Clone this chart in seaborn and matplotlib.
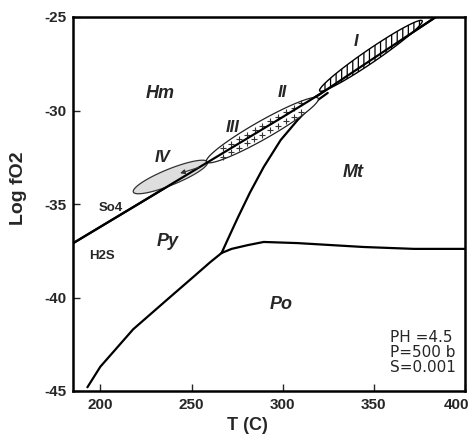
import numpy as np
import pandas as pd
import matplotlib
matplotlib.use("Agg")
import matplotlib.pyplot as plt
import matplotlib.transforms as mtransforms
import seaborn as sns
from matplotlib.patches import Polygon

# ---------------- data ----------------
hm_T = [185, 220, 260, 300, 320, 350, 384]
hm_y = [-37.1, -35.05, -32.7, -30.35, -29.15, -27.2, -25.0]

pymt_T = [266.5, 270, 275.3, 282, 289.6, 298.9, 308.2, 317, 324.7]
pymt_y = [-37.62, -36.87, -35.75, -34.4, -33.02, -31.58, -30.51, -29.6, -29.06]

popy_T = [192.9, 200, 218, 236.8, 251, 260.4, 266.5]
popy_y = [-44.8, -43.7, -41.7, -40.1, -38.9, -38.1, -37.62]

pomt_T = [266.5, 272, 280.8, 289.6, 308, 344.5, 372, 400]
pomt_y = [-37.62, -37.4, -37.2, -37.03, -37.09, -37.3, -37.4, -37.4]

# ellipses: end-points (T, logfO2) of the long axis
ell_I = [(320.3, -28.95), (376.5, -25.2)]
ell_III = [(258.2, -32.75), (319.5, -29.35)]
ell_IV = [(218.1, -34.36), (258.8, -32.75)]
arrow_IV = [(255.5, -33.0), (242.3, -33.4)]

region_labels = ["Hm", "Mt", "Py", "Po"]
region_pos = [(233, -29.1), (338.5, -33.3), (237, -37.0), (299, -40.4)]
roman_labels = ["I", "II", "III", "IV"]
roman_pos = [(340, -26.3), (300, -29.06), (272.5, -30.9), (234, -32.5)]
species_labels = ["So4", "H2S"]
species_pos = [(205.5, -35.2), (201, -37.8)]
cond_text = "PH =4.5\nP=500 b\nS=0.001"

xticks = [200, 250, 300, 350, 400]
yticks = [-45, -40, -35, -30, -25]

# ---------------- style ----------------
sns.set_style("ticks")
plt.rcParams["font.family"] = ["Liberation Sans", "DejaVu Sans"]
plt.rcParams["axes.unicode_minus"] = False
plt.rcParams["hatch.linewidth"] = 0.9

fig = plt.figure(figsize=(4.76, 4.37), dpi=100)
ax = fig.add_axes([73 / 476, 1 - 391 / 437, (465 - 73) / 476, (391 - 17) / 437])
ax.set_xlim(185, 400)
ax.set_ylim(-45, -25)

lw = 1.6
for T, y in [(hm_T, hm_y), (pymt_T, pymt_y), (popy_T, popy_y), (pomt_T, pomt_y)]:
    df = pd.DataFrame({"T": T, "y": y})
    sns.lineplot(data=df, x="T", y="y", ax=ax, color="black", lw=lw,
                 sort=False, estimator=None)

fig.canvas.draw()
trans = ax.transData
inv = trans.inverted()


def ellipse_poly(ends, semi_minor_px, n=120):
    p1 = trans.transform(ends[0])
    p2 = trans.transform(ends[1])
    c = (p1 + p2) / 2
    d = p2 - p1
    a = np.hypot(*d) / 2
    u = d / np.hypot(*d)
    v = np.array([-u[1], u[0]])
    t = np.linspace(0, 2 * np.pi, n)
    pts = c + np.outer(a * np.cos(t), u) + np.outer(semi_minor_px * np.sin(t), v)
    return inv.transform(pts), (c, a, u, v)


# IV: grey filled
pts, _ = ellipse_poly(ell_IV, 8.0)
ax.add_patch(Polygon(pts, closed=True, facecolor="#dedede", edgecolor="#333333",
                     lw=0.9, zorder=3))
# III: with plus signs
pts, (c, a, u, v) = ellipse_poly(ell_III, 9.0)
ax.add_patch(Polygon(pts, closed=True, facecolor="white", edgecolor="#222222",
                     lw=0.9, zorder=3))
plus = []
for s in np.arange(-a + 8, a - 6, 9.0):
    for r in [-3.8, 3.8]:
        off = 4.5 if r > 0 else 0
        q = c + (s + off) * u + r * v
        if ((s + off) / (a * 0.85)) ** 2 + (r / 9.0) ** 2 < 1:
            plus.append(q)
plus = inv.transform(np.array(plus))
ax.scatter(plus[:, 0], plus[:, 1], marker="+", s=14, color="#333333",
           linewidths=0.8, zorder=4)
# I: hatched
pts, _ = ellipse_poly(ell_I, 6.5)
ax.add_patch(Polygon(pts, closed=True, facecolor="white", edgecolor="black",
                     lw=1.0, hatch="|||", zorder=3))
# redraw main line over ellipse edges
ax.plot(hm_T, hm_y, color="black", lw=lw, zorder=5)

ax.annotate("", xy=arrow_IV[1], xytext=arrow_IV[0],
            arrowprops=dict(arrowstyle="-|>", color="#333333", lw=0.8,
                            mutation_scale=7), zorder=6)

for lab, (x, y) in zip(region_labels, region_pos):
    ax.text(x, y, lab, fontsize=13, fontweight="bold", fontstyle="italic",
            ha="center", va="center", zorder=7)
for lab, (x, y) in zip(roman_labels, roman_pos):
    ax.text(x, y, lab, fontsize=12, fontweight="bold", fontstyle="italic",
            ha="center", va="center", zorder=7)
for lab, (x, y) in zip(species_labels, species_pos):
    ax.text(x, y, lab, fontsize=9.5, fontweight="bold",
            ha="center", va="center", zorder=7)
ax.text(359.0, -41.75, cond_text, fontsize=11, ha="left", va="top",
        linespacing=1.0, family=["DejaVu Sans"], zorder=7)

ax.set_xticks(xticks)
ax.set_yticks(yticks)
ax.set_xticklabels([str(t) for t in xticks], fontweight="bold", fontsize=11)
ax.set_yticklabels([str(t) for t in yticks], fontweight="bold", fontsize=11)
ax.tick_params(direction="in", length=5, width=1, pad=5)
last = ax.get_xticklabels()[-1]
last.set_transform(last.get_transform() +
                   mtransforms.ScaledTranslation(-8 / 100, 0, fig.dpi_scale_trans))
for sp in ax.spines.values():
    sp.set_linewidth(1.8)
    sp.set_color("black")

ax.set_xlabel("T (C)", fontsize=13, fontweight="bold")
ax.set_ylabel("Log fO2", fontsize=14, fontweight="bold")
ax.xaxis.set_label_coords((247 - 73) / (465 - 73), -(426 - 391) / (391 - 17))
ax.yaxis.set_label_coords(-(73 - 18) / (465 - 73), (391 - 188) / (391 - 17))
ax.xaxis.label.set_va("center")
ax.yaxis.label.set_va("center")

fig.savefig("out.png", dpi=100)
